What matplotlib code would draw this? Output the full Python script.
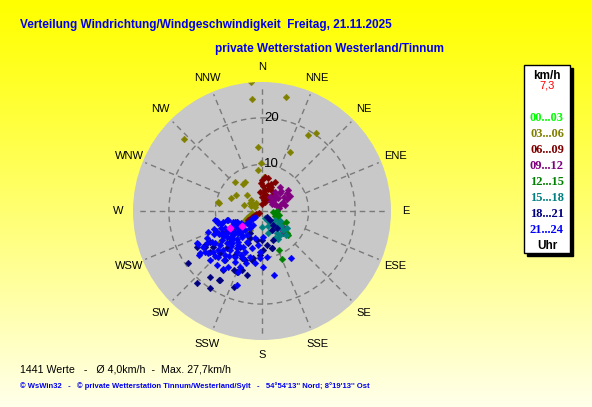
import numpy as np
import matplotlib
matplotlib.use("Agg")
import matplotlib.pyplot as plt
from matplotlib import font_manager
from matplotlib.patches import Rectangle

# ── Data: wind direction (deg, compass) and speed (km/h) per time block ──────
dir_0003 = [228, 232, 236, 230]
spd_0003 = [7.0, 8.0, 7.6, 9.0]

dir_0306 = [355, 355, 12, 31, 35, 25, 356, 313, 359, 354, 3, 317, 325, 330, 293,
            302, 282, 280, 317, 304, 311, 300, 242, 247, 259, 309, 234, 212, 250,
            245, 238, 295, 315, 325, 288]
spd_0306 = [27.7, 24.2, 25.1, 19.1, 20.4, 14.0, 13.8, 22.8, 10.3, 8.9, 7.3, 8.5,
            7.1, 7.2, 7.2, 6.6, 9.7, 9.4, 4.7, 3.1, 2.0, 1.7, 4.1, 3.3, 2.2, 2.8,
            11.2, 4.8, 3.0, 3.6, 1.5, 2.6, 3.4, 2.2, 4.0]

dir_0609 = [0, 5, 10, 358, 24, 18, 12, 3, 8, 15, 20, 28, 34, 6, 10, 2, 14, 22, 30,
            8, 16, 355, 4, 239, 243, 237, 241, 236, 245]
spd_0609 = [6.7, 7.3, 7.2, 6.0, 6.8, 6.2, 5.8, 5.4, 4.6, 5.0, 5.4, 4.8, 4.2, 3.8,
            3.2, 3.0, 3.6, 3.2, 3.0, 2.4, 2.0, 4.2, 1.5, 2.5, 1.4, 3.6, 2.0, 3.0, 0.8]

dir_0912 = [37, 54, 67, 67, 30, 62, 45, 50, 58, 40, 48, 72, 60, 35, 44, 52, 65, 75,
            80, 55, 42, 133, 136, 128]
spd_0912 = [6.4, 6.6, 4.9, 3.3, 3.5, 6.8, 5.5, 4.5, 5.6, 4.4, 3.6, 4.0, 3.0, 5.0,
            6.0, 7.2, 6.0, 5.2, 3.8, 2.5, 2.8, 5.3, 6.5, 6.0]

dir_1215 = [95, 100, 108, 112, 104, 118, 122, 131, 133, 156, 157, 90, 115]
spd_1215 = [2.4, 2.8, 3.4, 3.0, 3.8, 4.2, 5.0, 7.2, 7.6, 9.1, 11.2, 3.2, 5.6]

dir_1518 = [157, 144, 133, 132, 143, 154, 124, 152, 158, 180, 146, 138, 128, 120,
            150, 140, 135, 165, 148, 126]
spd_1518 = [1.6, 2.9, 4.4, 6.1, 6.4, 6.4, 6.5, 4.6, 3.5, 3.4, 5.7, 5.0, 5.2, 4.5,
            7.0, 3.8, 7.4, 4.8, 2.2, 3.4]

dir_1821 = [235, 222, 214, 212, 200, 202, 193, 241, 239, 232, 225, 217, 212, 199,
            192, 183, 178, 165, 159, 246, 241, 209, 190, 204, 226, 211, 241, 239,
            138, 142, 139, 140, 152, 248, 238, 218, 211, 213, 205, 199, 234, 204,
            180, 172, 165, 203, 191, 223, 234]
spd_1821 = [19.3, 20.8, 20.0, 17.5, 17.3, 14.2, 14.1, 9.6, 14.3, 14.2, 12.8, 13.2,
            11.1, 11.2, 10.8, 9.5, 8.4, 8.2, 6.7, 5.9, 7.1, 5.4, 6.3, 7.5, 9.6, 9.1,
            16.0, 13.0, 2.6, 3.8, 4.9, 1.7, 4.6, 6.3, 14.5, 18.0, 17.4, 15.2, 14.0,
            13.4, 5.1, 6.4, 6.2, 7.4, 8.2, 11.0, 10.3, 10.9, 13.1]

dir_2124 = [259, 255, 254, 255, 244, 235, 222, 215, 249, 244, 238, 243, 239, 230,
            235, 227, 220, 211, 199, 223, 215, 206, 195, 183, 182, 174, 195, 178,
            169, 148, 241, 233, 230, 218, 212, 231, 225, 219, 211, 203, 195, 187,
            208, 210, 224, 234, 220, 214, 201, 188, 179, 201, 213, 231, 235, 238,
            242, 245, 244, 236, 208, 197, 258, 256,
            228, 232, 236, 240, 226, 222, 218, 214, 228, 234, 238, 242, 246, 250,
            236, 228, 216, 222, 232, 226, 220, 240, 246, 250, 252, 248, 206, 202,
            226, 230, 237, 244, 240, 232, 218, 228, 230, 232, 226]
spd_2124 = [10.3, 9.8, 8.7, 7.6, 6.9, 6.3, 5.5, 4.5, 12.5, 13.2, 12.6, 15.4, 14.9,
            13.7, 16.4, 15.4, 12.4, 14.1, 16.8, 9.4, 8.9, 7.4, 8.2, 8.8, 10.1, 9.9,
            6.0, 5.6, 14.0, 11.9, 9.8, 9.4, 8.1, 7.1, 6.1, 11.6, 11.9, 10.8, 10.3,
            9.5, 10.2, 7.4, 8.8, 11.5, 13.7, 15.1, 15.1, 14.9, 12.9, 11.3, 12.0,
            14.1, 3.6, 4.1, 5.3, 6.4, 7.8, 8.7, 15.6, 16.1, 12.4, 11.7, 9.9, 7.8,
            7.0, 7.4, 8.0, 8.4, 8.6, 8.0, 8.4, 9.6, 10.2, 10.6, 10.0, 10.4, 10.8,
            11.0, 12.2, 12.6, 12.0, 10.0, 6.0, 6.4, 6.8, 5.2, 5.8, 6.6, 9.2, 9.6,
            10.4, 11.0, 14.0, 9.0, 9.2, 11.4, 13.6, 14.6, 13.4, 2.0, 3.0, 2.5, 4.0]

dir_other = [242, 233]
spd_other = [7.8, 5.4]

groups = [
    ("00...03", "#00FF00", dir_0003, spd_0003),
    ("03...06", "#808000", dir_0306, spd_0306),
    ("06...09", "#800000", dir_0609, spd_0609),
    ("09...12", "#800080", dir_0912, spd_0912),
    ("12...15", "#008000", dir_1215, spd_1215),
    ("15...18", "#008080", dir_1518, spd_1518),
    ("18...21", "#000080", dir_1821, spd_1821),
    ("21...24", "#0000FF", dir_2124, spd_2124),
]

compass = ["N", "NNE", "NE", "ENE", "E", "ESE", "SE", "SSE",
           "S", "SSW", "SW", "WSW", "W", "WNW", "NW", "NNW"]
ring_values = [10, 20]
r_max = 27.7

# condensed bold title font if the narrow Liberation face is around
installed = {f.name for f in font_manager.fontManager.ttflist}
if "Liberation Sans Narrow" in installed:
    title_family, title_size = "Liberation Sans Narrow", 10.3
else:
    title_family, title_size = "Liberation Sans", 8.5

W, H = 592, 407
fig = plt.figure(figsize=(W / 100, H / 100), dpi=100)

# yellow gradient background
bg = fig.add_axes([0, 0, 1, 1], zorder=-10)
grad = np.linspace(0, 1, 256)[:, None]
rgb = np.zeros((256, 1, 3))
rgb[..., 0] = 1.0
rgb[..., 1] = 1.0
rgb[..., 2] = 0.92 * grad ** 1.1
bg.imshow(rgb, aspect="auto", extent=[0, 1, 0, 1], origin="upper")
bg.set_axis_off()

# ── polar plot ────────────────────────────────────────────────────────────────
cx, cy, rad = 262, 211, 129
ax = fig.add_axes([(cx - rad) / W, (H - cy - rad) / H, 2 * rad / W, 2 * rad / H],
                  projection="polar")
ax.set_theta_zero_location("N")
ax.set_theta_direction(-1)
ax.set_ylim(0, r_max)
ax.set_facecolor("#C8C8C8")
ax.spines["polar"].set_visible(False)
ax.grid(False)
ax.set_xticks([])
ax.set_yticks([])

grid_kw = dict(color="#7A7A7A", linestyle=(0, (4, 3)), linewidth=1.0, zorder=1)
th = np.linspace(0, 2 * np.pi, 361)
for rv in ring_values:
    ax.plot(th, np.full_like(th, rv), **grid_kw)
for i in range(16):
    a = np.deg2rad(i * 22.5)
    r0 = 0 if i % 4 == 0 else ring_values[0]
    ax.plot([a, a], [r0, r_max * 0.98], **grid_kw)

for rv in ring_values:
    ax.annotate(str(rv), xy=(0, rv), xytext=(7, 0), textcoords="offset points",
                ha="center", va="center", fontsize=9.5, color="black",
                family="Liberation Sans", zorder=2)

for i, name in enumerate(compass):
    a = np.deg2rad(i * 22.5)
    ax.text(a, r_max * 144 / rad, name, ha="center", va="center", fontsize=8,
            family="Liberation Sans", clip_on=False, zorder=5)

for label, color, d, s in groups:
    ax.plot(np.deg2rad(d), s, linestyle="none", marker="D", markersize=3.4,
            markerfacecolor=color, markeredgecolor=color, markeredgewidth=0.3,
            zorder=3)
ax.plot(np.deg2rad(dir_other), spd_other, linestyle="none", marker="D",
        markersize=3.4, color="#FF00FF", zorder=3)

# ── titles ────────────────────────────────────────────────────────────────────
title_kw = dict(color="#0000EE", fontweight="bold", family=title_family,
                fontsize=title_size, va="center")
fig.text(20 / W, 1 - 25 / H, "Verteilung Windrichtung/Windgeschwindigkeit  Freitag, 21.11.2025",
         ha="left", **title_kw)
fig.text(215 / W, 1 - 49 / H, "private Wetterstation Westerland/Tinnum",
         ha="left", **title_kw)

# ── legend box ────────────────────────────────────────────────────────────────
bx0, by0, bx1, by1 = 524, 65, 570, 253
fig.patches.append(Rectangle(((bx0 + 3) / W, 1 - (by1 + 3) / H), (bx1 - bx0) / W,
                             (by1 - by0) / H, transform=fig.transFigure,
                             facecolor="black", edgecolor="black", zorder=1))
fig.patches.append(Rectangle((bx0 / W, 1 - by1 / H), (bx1 - bx0) / W,
                             (by1 - by0) / H, transform=fig.transFigure,
                             facecolor="white", edgecolor="black", linewidth=1,
                             zorder=2))
lx = (bx0 + bx1) / 2 / W
fig.text(lx, 1 - 76 / H, "km/h", ha="center", va="center", fontsize=8.5,
         fontweight="bold", family="Liberation Sans", zorder=3)
fig.text(lx, 1 - 86 / H, "7,3", ha="center", va="center", fontsize=8,
         color="red", family="Liberation Sans", zorder=3)
for k, (label, color, d, s) in enumerate(groups):
    fig.text(lx, 1 - (118 + 16 * k) / H, label, ha="center", va="center",
             fontsize=9, fontweight="bold", color=color,
             family="Liberation Serif", zorder=3)
fig.text(lx, 1 - 246 / H, "Uhr", ha="center", va="center", fontsize=8.5,
         fontweight="bold", family="Liberation Sans", zorder=3)

# ── footer ────────────────────────────────────────────────────────────────────
fig.text(20 / W, 1 - 369 / H, "1441 Werte   -   Ø 4,0km/h  -  Max. 27,7km/h",
         ha="left", va="center", fontsize=7.7, family="Liberation Sans")
fig.text(20 / W, 1 - 386 / H,
         "© WsWin32   -   © private Wetterstation Tinnum/Westerland/Sylt   -   "
         "54°54'13'' Nord; 8°19'13'' Ost",
         ha="left", va="center", fontsize=5.5, fontweight="bold", color="#0000EE",
         family="Liberation Sans")

fig.savefig("out.png", dpi=100)
